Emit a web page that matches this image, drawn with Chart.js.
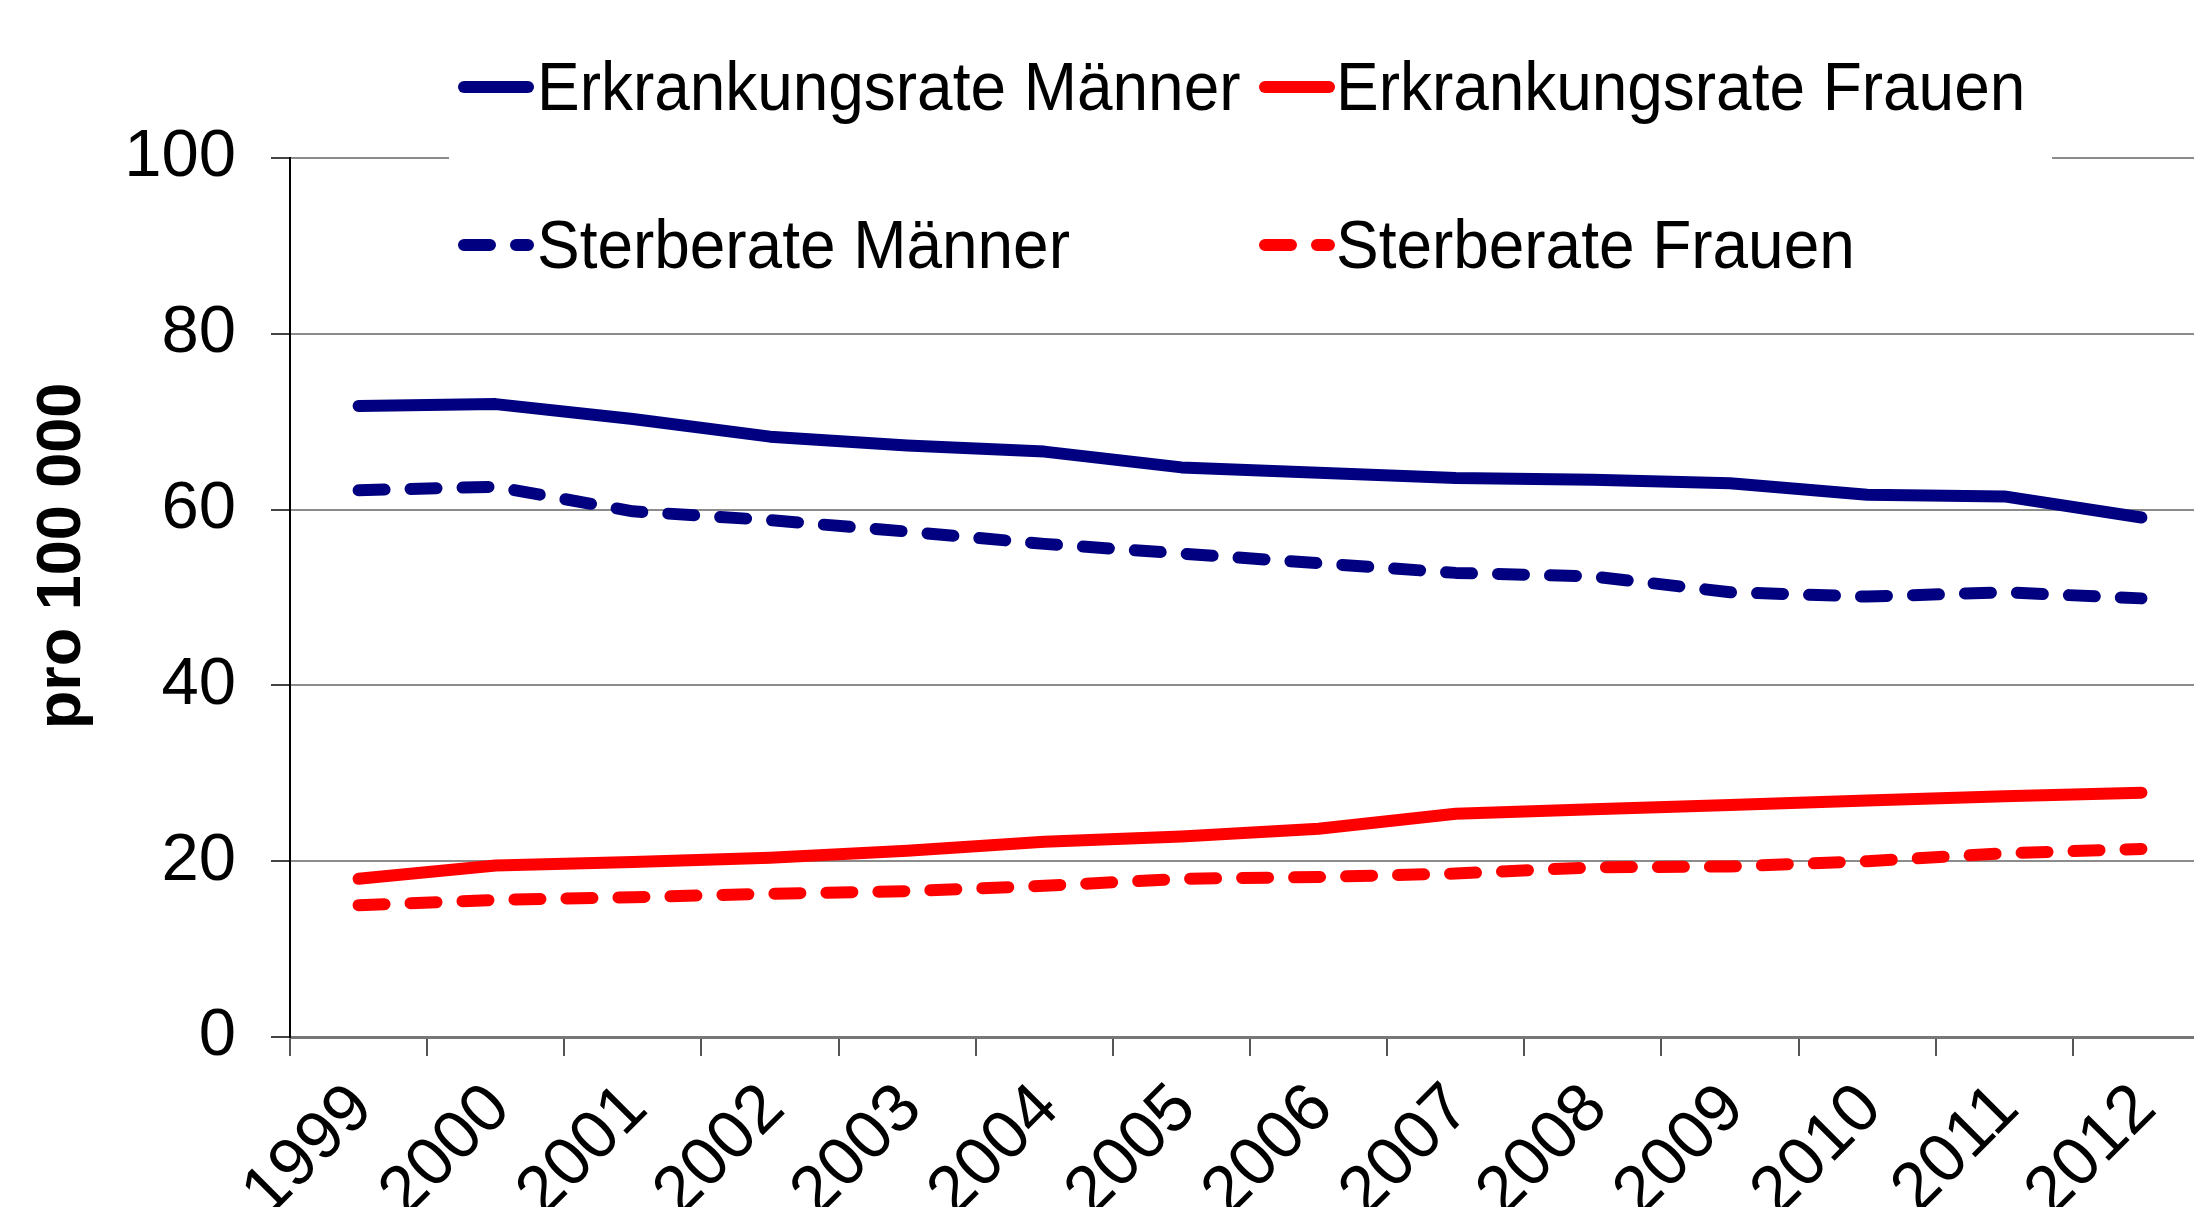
<!DOCTYPE html>
<html>
<head>
<meta charset="utf-8">
<script src="https://cdn.jsdelivr.net/npm/chart.js@4.4.1/dist/chart.umd.min.js"></script>
<style>
  html, body { margin: 0; padding: 0; background: #fff; overflow: hidden; }
  #wrap { width: 2240px; height: 1300px; }
</style>
</head>
<body>
<div id="wrap"><canvas id="chart" width="2240" height="1300"></canvas></div>
<script>
const years = ['1999', '2000', '2001', '2002', '2003', '2004', '2005', '2006', '2007', '2008', '2009', '2010', '2011', '2012'];
const erkMaenner = [71.8, 72.0, 70.3, 68.3, 67.3, 66.6, 64.8, 64.2, 63.6, 63.4, 63.0, 61.7, 61.5, 59.1];
const erkFrauen = [18.0, 19.5, 19.9, 20.4, 21.2, 22.2, 22.8, 23.7, 25.4, 25.9, 26.4, 26.9, 27.4, 27.8];
const sterbMaenner = [62.2, 62.6, 59.8, 58.8, 57.5, 56.1, 55.0, 53.9, 52.8, 52.4, 50.6, 50.1, 50.6, 49.9];
const sterbFrauen = [15.0, 15.6, 15.9, 16.3, 16.6, 17.2, 18.0, 18.2, 18.6, 19.3, 19.4, 20.0, 20.9, 21.4];
const yTicks = [0, 20, 40, 60, 80, 100];
const yTitle = 'pro 100 000';

const FONT = '"Liberation Sans", Arial, sans-serif';
const NAVY = '#000080';
const RED = '#ff0000';
const DASH = [26, 26];

function line(label, data, color, dash) {
  return {
    label, data,
    borderColor: color, backgroundColor: color,
    borderWidth: 12, borderCapStyle: 'round', borderJoinStyle: 'round',
    borderDash: dash || [], pointRadius: 0, tension: 0, fill: false
  };
}

// legend drawn by hand: two aligned columns, white box over the top gridline
const excelLegend = {
  id: 'excelLegend',
  afterDraw(chart) {
    const ctx = chart.ctx;
    ctx.save();
    ctx.fillStyle = '#fff';
    ctx.fillRect(449, 0, 1603, 320);
    const lineX = [464, 1265], textX = [537, 1336], rowY = [87, 245];
    chart.data.datasets.forEach((ds, i) => {
      const c = i % 2, r = Math.floor(i / 2);
      ctx.beginPath();
      ctx.strokeStyle = ds.borderColor;
      ctx.lineWidth = 12;
      ctx.lineCap = 'round';
      ctx.setLineDash(ds.borderDash);
      ctx.moveTo(lineX[c], rowY[r]);
      ctx.lineTo(lineX[c] + 64, rowY[r]);
      ctx.stroke();
      ctx.setLineDash([]);
      ctx.save();
      ctx.translate(textX[c], rowY[r] + 23);
      ctx.scale(0.94, 1);
      ctx.fillStyle = '#000';
      ctx.font = '68px ' + FONT;
      ctx.textAlign = 'left';
      ctx.textBaseline = 'alphabetic';
      ctx.fillText(ds.label, 0, 0);
      ctx.restore();
    });
    // y axis title, a bit above the middle like the original
    ctx.translate(80, 556);
    ctx.rotate(-Math.PI / 2);
    ctx.font = 'bold 63px ' + FONT;
    ctx.fillStyle = '#000';
    ctx.textAlign = 'center';
    ctx.textBaseline = 'alphabetic';
    ctx.fillText(yTitle, 0, 0);
    ctx.restore();
  }
};

new Chart(document.getElementById('chart'), {
  type: 'line',
  data: {
    labels: years,
    datasets: [
      line('Erkrankungsrate Männer', erkMaenner, NAVY),
      line('Erkrankungsrate Frauen', erkFrauen, RED),
      line('Sterberate Männer', sterbMaenner, NAVY, DASH),
      line('Sterberate Frauen', sterbFrauen, RED, DASH)
    ]
  },
  options: {
    responsive: false,
    animation: false,
    devicePixelRatio: 1,
    layout: { padding: { top: 158, right: 30, left: 0, bottom: 0 } },
    plugins: { legend: { display: false }, tooltip: { enabled: false } },
    scales: {
      x: {
        offset: true,
        grid: { offset: true, drawOnChartArea: false, drawTicks: true, tickLength: 19, color: '#555', lineWidth: 2 },
        border: { display: true, color: '#777', width: 3 },
        ticks: { autoSkip: false, minRotation: 45, maxRotation: 45, color: '#000', font: { family: FONT, size: 68 }, padding: 13, labelOffset: 4 },
        afterFit(scale) { scale.height = 1300 - 1037; }
      },
      y: {
        min: 0, max: 100,
        afterBuildTicks(scale) { scale.ticks = yTicks.map(v => ({ value: v })); },
        grid: { color: '#8c8c8c', lineWidth: 2, tickLength: 19, tickColor: '#444' },
        border: { display: true, color: '#000', width: 2 },
        ticks: { color: '#000', font: { family: FONT, size: 67 }, padding: 35 },
        afterFit(scale) { scale.width = 290; }
      }
    }
  },
  plugins: [excelLegend]
});
</script>
</body>
</html>
